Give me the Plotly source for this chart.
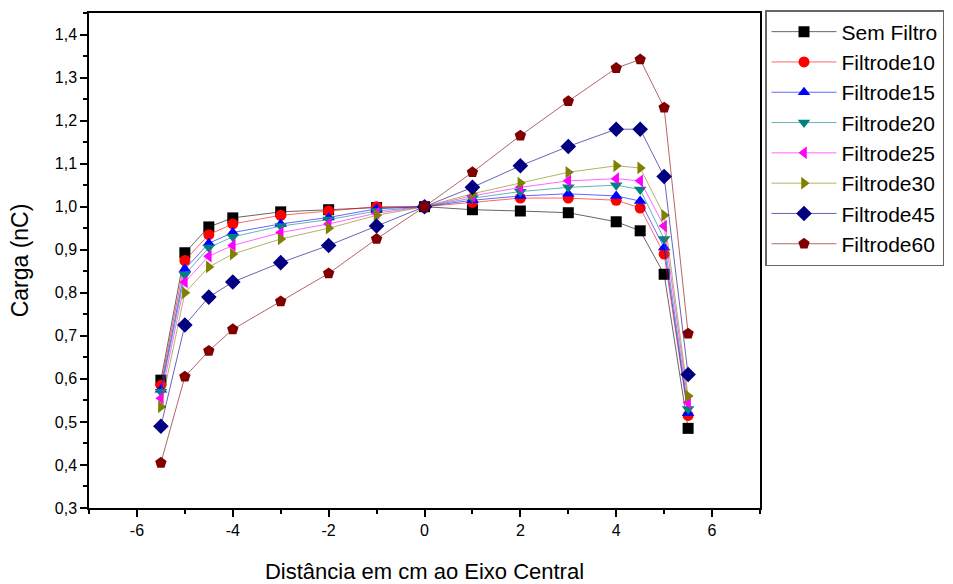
import plotly.graph_objects as go

x = [-5.5, -5, -4.5, -4, -3, -2, -1, 0, 1, 2, 3, 4, 4.5, 5, 5.5]

sem_filtro = [0.597, 0.893, 0.953, 0.974, 0.988, 0.993, 0.998, 1.0, 0.993, 0.990, 0.986, 0.965, 0.944, 0.843, 0.485]
filtro10 = [0.585, 0.875, 0.935, 0.960, 0.980, 0.990, 1.000, 1.0, 1.010, 1.020, 1.020, 1.015, 0.997, 0.890, 0.515]
filtro15 = [0.575, 0.855, 0.915, 0.940, 0.960, 0.975, 0.995, 1.0, 1.015, 1.025, 1.030, 1.025, 1.013, 0.905, 0.520]
filtro20 = [0.570, 0.842, 0.905, 0.930, 0.955, 0.970, 0.990, 1.0, 1.020, 1.035, 1.045, 1.050, 1.040, 0.925, 0.530]
filtro25 = [0.555, 0.825, 0.885, 0.910, 0.940, 0.960, 0.985, 1.0, 1.025, 1.045, 1.060, 1.065, 1.060, 0.955, 0.545]
filtro30 = [0.535, 0.800, 0.860, 0.890, 0.925, 0.950, 0.980, 1.0, 1.030, 1.055, 1.080, 1.095, 1.090, 0.980, 0.560]
filtro45 = [0.490, 0.725, 0.790, 0.825, 0.870, 0.910, 0.955, 1.0, 1.045, 1.095, 1.140, 1.180, 1.180, 1.070, 0.610]
filtro60 = [0.405, 0.605, 0.665, 0.715, 0.780, 0.845, 0.925, 1.0, 1.080, 1.165, 1.245, 1.322, 1.342, 1.230, 0.705]

x_tickvals = [-6, -4, -2, 0, 2, 4, 6]
x_ticktext = ["-6", "-4", "-2", "0", "2", "4", "6"]

series = [
    ("Sem Filtro", sem_filtro, "#000000", "square"),
    ("Filtrode10", filtro10, "#ff0000", "circle"),
    ("Filtrode15", filtro15, "#0000ff", "triangle-up"),
    ("Filtrode20", filtro20, "#008080", "triangle-down"),
    ("Filtrode25", filtro25, "#ff00ff", "triangle-left"),
    ("Filtrode30", filtro30, "#808000", "triangle-right"),
    ("Filtrode45", filtro45, "#000080", "diamond"),
    ("Filtrode60", filtro60, "#800000", "pentagon"),
]

def light(hexc, a=0.6):
    r = int(hexc[1:3], 16); g = int(hexc[3:5], 16); b = int(hexc[5:7], 16)
    return f"rgba({r},{g},{b},{a})"

fig = go.Figure()
for i, (name, ys, col, sym) in enumerate(series):
    fig.add_trace(go.Scatter(
        x=x, y=ys, name=name, mode="lines+markers",
        line=dict(color=light(col), width=1),
        marker=dict(color=col, symbol=sym, size=11 if sym not in ("diamond", "pentagon") else 12,
                    line=dict(width=0)),
        legendgroup=f"g{i}",
    ))

font = "Liberation Sans, Arial, sans-serif"
fig.update_layout(
    width=953, height=584,
    margin=dict(l=89, r=193, t=13, b=76, autoexpand=False),
    paper_bgcolor="white", plot_bgcolor="white",
    separators=",.",
    font=dict(family=font, size=16, color="black"),
    showlegend=True,
    legend=dict(
        xref="container", yref="container",
        x=765 / 953, y=1 - 10 / 584, xanchor="left", yanchor="top",
        bordercolor="#666666", borderwidth=1.5,
        font=dict(family=font, size=21, color="black"),
        itemwidth=65, tracegroupgap=0, traceorder="grouped",
        bgcolor="white",
    ),
)
fig.update_xaxes(
    range=[-7, 7], tickvals=x_tickvals, ticktext=x_ticktext, showgrid=False, zeroline=False,
    showline=True, linecolor="black", linewidth=1.5, mirror=True, automargin=False,
    ticks="outside", ticklen=7, tickwidth=1.5, tickcolor="black",
    minor=dict(dtick=1, tick0=0, ticks="outside", ticklen=4, tickwidth=1.5, tickcolor="black", showgrid=False),
    tickfont=dict(size=16),
    title=dict(text="Distância em cm ao Eixo Central", font=dict(size=22), standoff=26),
)
fig.update_yaxes(
    range=[0.3, 1.45], dtick=0.1, tick0=0.3, tickformat=".1f", showgrid=False, zeroline=False,
    showline=True, linecolor="black", linewidth=1.5, mirror=True, automargin=False,
    ticks="outside", ticklen=7, tickwidth=1.5, tickcolor="black",
    minor=dict(dtick=0.05, ticks="outside", ticklen=4, tickwidth=1.5, tickcolor="black", showgrid=False),
    tickfont=dict(size=16),
    title=dict(text="Carga (nC)", font=dict(size=23), standoff=20),
)
fig.write_html("out.html")
